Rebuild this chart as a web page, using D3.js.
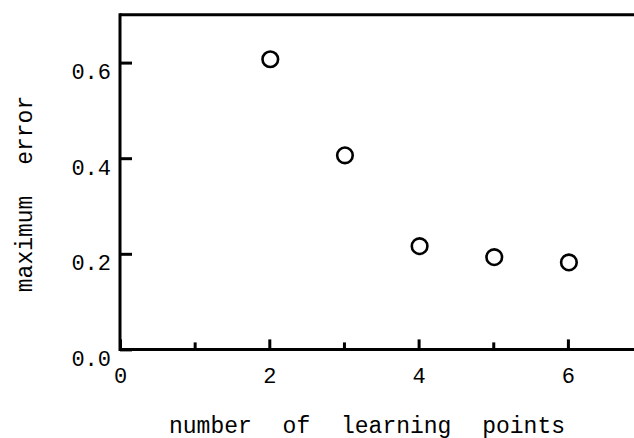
<!DOCTYPE html>
<html>
<head>
<meta charset="utf-8">
<script src="https://cdn.jsdelivr.net/npm/d3@7"></script>
<style>
  html, body { margin: 0; padding: 0; background: #fff; }
  svg { display: block; }
  text { font-family: "Courier New", "Liberation Mono", monospace; fill: #000; }
</style>
</head>
<body>
<svg id="chart" width="634" height="438"></svg>
<script>
// Maximum error against the number of learning points
const learningPoints = [2, 3, 4, 5, 6];
const maxError = [0.607, 0.406, 0.216, 0.193, 0.182];

const xMajorTicks = [0, 2, 4, 6];
const xMinorTicks = [1, 3, 5];
const yTicks = [0.0, 0.2, 0.4, 0.6];

const xTitle = "number of learning points";
const yTitle = "maximum error";

const W = 634, H = 438;
const plotLeft = 120, plotBottom = 349.4, plotTop = 14.8;

const svg = d3.select("#chart");

const x = d3.scaleLinear().domain([0, 7]).range([plotLeft, plotLeft + 7 * 74.65]);
const y = d3.scaleLinear().domain([0, 0.7]).range([plotBottom, plotTop]);

// x axis: long inward ticks at even values with labels, short ones between
const gxMajor = svg.append("g")
  .attr("transform", `translate(0,${plotBottom})`)
  .call(d3.axisBottom(x).tickValues(xMajorTicks).tickSize(-10).tickFormat(d3.format("d")));
const gxMinor = svg.append("g")
  .attr("transform", `translate(0,${plotBottom})`)
  .call(d3.axisBottom(x).tickValues(xMinorTicks).tickSize(-7).tickFormat(""));

// y axis: inward ticks, labels sitting a little below their ticks
const gy = svg.append("g")
  .attr("transform", `translate(${plotLeft},0)`)
  .call(d3.axisLeft(y).tickValues(yTicks).tickSize(-12).tickFormat(d3.format(".1f")));

[gxMajor, gxMinor, gy].forEach(g => {
  g.select(".domain").remove();
  g.selectAll(".tick line").attr("stroke", "#000").attr("stroke-width", 3);
});

gxMajor.selectAll(".tick text")
  .attr("y", 33.8).attr("dy", null)
  .style("font-size", "22px")
  .attr("fill", "#000");

gy.selectAll(".tick text")
  .attr("x", -9).attr("dy", null).attr("y", 15.8)
  .style("font-size", "22px")
  .attr("text-anchor", "end")
  .attr("fill", "#000");

// frame: left, bottom and top lines
const frame = svg.append("g")
  .attr("stroke", "#000").attr("stroke-width", 3).attr("fill", "none");
frame.append("line").attr("x1", x(0)).attr("x2", x(0)).attr("y1", y(0) + 1.5).attr("y2", y(0.7) - 1.5);
frame.append("line").attr("x1", x(0)).attr("x2", W).attr("y1", y(0)).attr("y2", y(0));
frame.append("line").attr("x1", x(0)).attr("x2", W).attr("y1", y(0.7)).attr("y2", y(0.7));

// open circle markers
svg.append("g")
  .selectAll("circle")
  .data(learningPoints.map((p, i) => ({ p, e: maxError[i] })))
  .join("circle")
  .attr("cx", d => x(d.p) + 1)
  .attr("cy", d => y(d.e))
  .attr("r", 7.8)
  .attr("fill", "none")
  .attr("stroke", "#000")
  .attr("stroke-width", 2.6);

// axis titles
svg.append("text")
  .attr("x", 367).attr("y", 432.5)
  .attr("text-anchor", "middle")
  .style("font-size", "23px")
  .style("word-spacing", "17px")
  .text(xTitle);

svg.append("text")
  .attr("transform", "translate(32,194) rotate(-90)")
  .attr("text-anchor", "middle")
  .style("font-size", "23px")
  .style("word-spacing", "17px")
  .text(yTitle);
</script>
</body>
</html>
